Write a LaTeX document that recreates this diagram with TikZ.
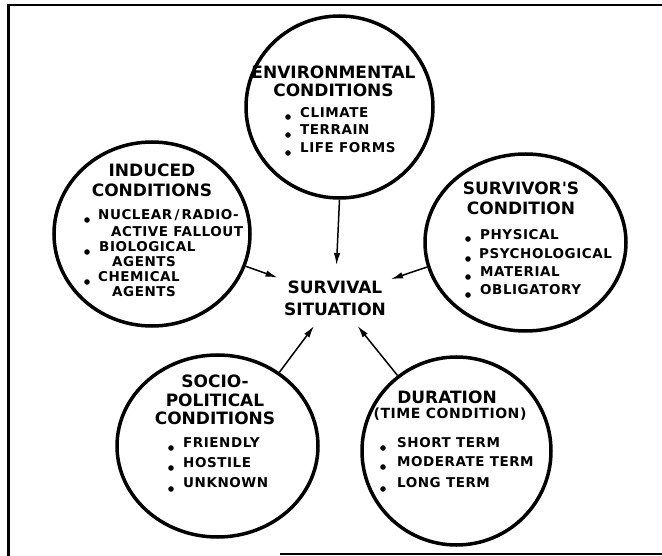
\documentclass[tikz,border=0pt]{standalone}
\usepackage{fontspec}
\setmainfont{DejaVu Sans}
\newfontfamily\ttlfont{DejaVu Sans Bold}
\newfontfamily\itmfont[LetterSpace=4]{DejaVu Sans Bold}
\usetikzlibrary{shapes.geometric,arrows.meta}
\tikzset{
  ring/.style={draw, line width=3.5pt, ellipse, inner sep=0pt},
  ttl/.style={font=\ttlfont\fontsize{17}{20}\selectfont, align=center, inner sep=0pt},
  itm/.style={font=\itmfont\fontsize{13.5}{16}\selectfont, anchor=west, inner sep=0pt, text height=9.8pt, text depth=0pt},
  sub/.style={font=\itmfont\fontsize{14}{16}\selectfont, inner sep=0pt},
  arr/.style={line width=1.5pt, -{Latex[length=12pt,width=6.5pt]}},
  frame/.style={line width=2pt},
}
\begin{document}
\begin{tikzpicture}[x=1pt,y=-1pt]
\useasboundingbox (0,0) rectangle (662,556);
% frame
\draw[frame, line width=3pt] (8,5) -- (8,556);
\draw[frame] (7,5) -- (662,5);
\draw[frame, line width=2.5pt] (280,554) -- (662,554);

% circles
\node[ring, minimum width=187pt, minimum height=182pt] (env) at (339.5,107) {};
\node[ring, minimum width=196pt, minimum height=184pt] (ind) at (152,234) {};
\node[ring, minimum width=201pt, minimum height=177pt] (surv) at (525.5,242.5) {};
\node[ring, minimum width=201pt, minimum height=182pt] (soc) at (217.5,446) {};
\node[ring, minimum width=189pt, minimum height=188pt] (dur) at (456.5,451) {};

% titles
\node[ttl, font=\ttlfont\fontsize{17}{18}\selectfont] (envT) at (333.5,81) {ENVIRONMENTAL\\CONDITIONS};
\node[ttl] (indT) at (152,180) {INDUCED\\CONDITIONS};
\node[ttl] (survT) at (521,198) {SURVIVOR'S\\CONDITION};
\node[ttl, font=\ttlfont\fontsize{17}{18.5}\selectfont] (socT) at (215,400) {SOCIO-\\POLITICAL\\CONDITIONS};
\node[ttl] (durT) at (447,397) {DURATION};
\node[sub] (durS) at (450,414) {(TIME CONDITION)};
\node[ttl, font=\ttlfont\fontsize{17}{22}\selectfont] (sit) at (335,298) {SURVIVAL\\SITUATION};

% items
\foreach \t/\x/\y [count=\k] in {CLIMATE/300/113, TERRAIN/300/130, LIFE FORMS/300/148}
  \node[itm] (envI\k) at (\x,\y) {\t};
\foreach \t/\x/\y [count=\k] in {{NUCLEAR\,/\,RADIO-}/98/215, ACTIVE FALLOUT/111/232, BIOLOGICAL/99/247, AGENTS/112/262, CHEMICAL/98/277, AGENTS/112/292}
  \node[itm] (indI\k) at (\x,\y) {\t};
\foreach \t/\x/\y [count=\k] in {PHYSICAL/480/235, PSYCHOLOGICAL/479/254, MATERIAL/480/272, OBLIGATORY/480/290}
  \node[itm] (survI\k) at (\x,\y) {\t};
\foreach \t/\x/\y [count=\k] in {FRIENDLY/183/443, HOSTILE/183/463, UNKNOWN/183/483}
  \node[itm] (socI\k) at (\x,\y) {\t};
\foreach \t/\x/\y [count=\k] in {SHORT TERM/397/443, MODERATE TERM/397/462, LONG TERM/397/483}
  \node[itm] (durI\k) at (\x,\y) {\t};

% bullets
\foreach \x/\y in {288/117, 288/135, 288/153,
                   87/220, 87/252, 87/282,
                   468/239, 468/259, 468/277, 468/295,
                   171/448, 171/468, 171/489,
                   383/448, 383/467, 383/489}
  \fill (\x,\y) circle (2.8pt);

% arrows
\draw[arr, shorten >=33pt] (env.south) -- (sit.center);
\draw[arr, shorten >=61pt] (ind.-19) -- (sit.center);
\draw[arr, shorten >=59pt] (surv.194) -- (sit.center);
\draw[arr, shorten >=35pt] (soc.50) -- (sit.center);
\draw[arr, shorten >=36pt] (dur.128) -- (sit.center);
\end{tikzpicture}
\end{document}
